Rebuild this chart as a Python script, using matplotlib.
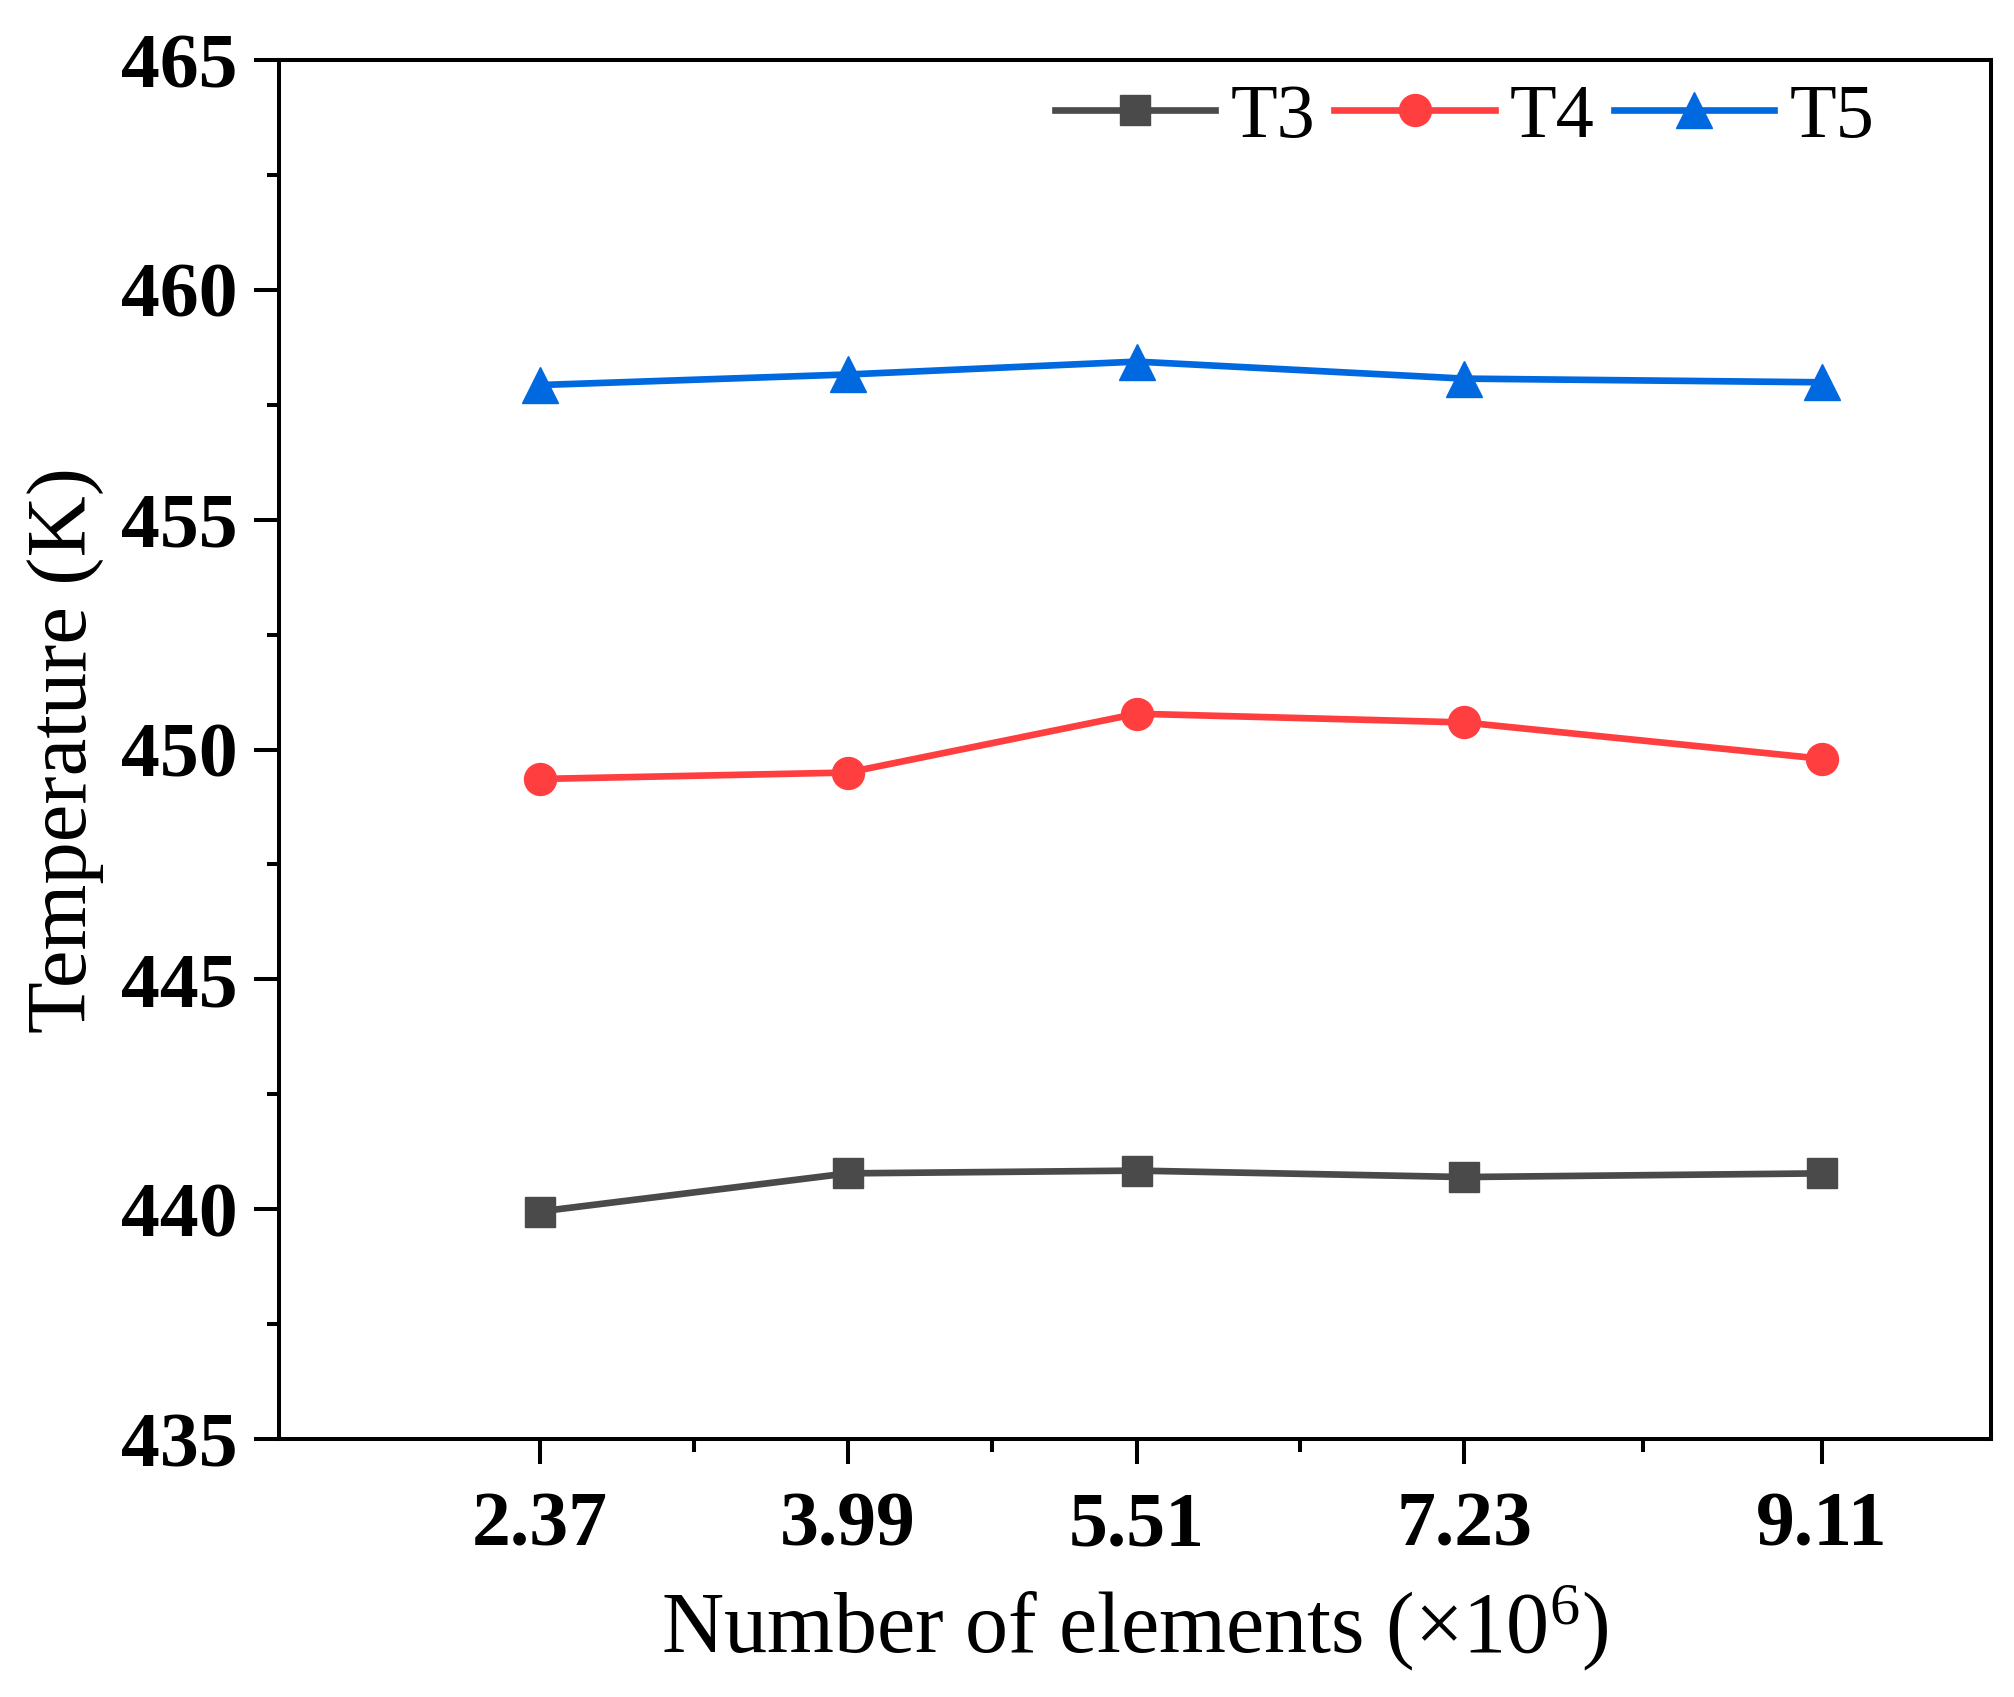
import matplotlib
matplotlib.use("Agg")
import matplotlib.pyplot as plt
import numpy as np

elements = [2.37, 3.99, 5.51, 7.23, 9.11]
tick_labels = ["2.37", "3.99", "5.51", "7.23", "9.11"]
t3 = [439.95, 440.78, 440.84, 440.70, 440.78]
t4 = [449.36, 449.50, 450.78, 450.59, 449.80]
t5 = [457.93, 458.16, 458.44, 458.07, 457.99]
series_names = ["T3", "T4", "T5"]

plt.rcParams['font.family'] = ['Liberation Serif', 'DejaVu Serif']
plt.rcParams['mathtext.fontset'] = 'custom'
plt.rcParams['mathtext.rm'] = 'Liberation Serif'
plt.rcParams['mathtext.it'] = 'Liberation Serif:italic'

fig = plt.figure(figsize=(20.14, 16.97), dpi=100)
ax = fig.add_axes([0.1385, 0.152, 0.8501, 0.8126])

ax.plot(elements, t3, color='#4a4a4a', marker='s', markersize=21, lw=4.8, label=series_names[0])
ax.plot(elements, t4, color='#ff3f3f', marker='o', markersize=23, lw=4.8, label=series_names[1])
ax.plot(elements, t5, color='#0069e0', marker='^', markersize=26, lw=4.8, label=series_names[2])

ax.set_xlim(1.0, 10.0)
ax.set_ylim(435, 465)
ax.set_xticks(elements)
ax.set_xticklabels(tick_labels)
mids = [(a + b) / 2 for a, b in zip(elements[:-1], elements[1:])]
ax.set_xticks(mids, minor=True)
ax.set_yticks(np.arange(435, 466, 5))
ax.set_yticks(np.arange(437.5, 465, 5), minor=True)

for s in ax.spines.values():
    s.set_linewidth(2.9)

ax.tick_params(axis='both', which='major', direction='out', length=18, width=2.9,
               labelsize=56)
ax.tick_params(axis='both', which='minor', direction='out', length=9, width=2.9)
ax.tick_params(axis='x', which='major', pad=20)
ax.tick_params(axis='y', which='major', pad=12)
for lab in ax.get_xticklabels() + ax.get_yticklabels():
    lab.set_fontweight('bold')

ax.set_xlabel(r'Number of elements ($\times$10$^{6}$)', fontsize=62, labelpad=14)
ax.set_ylabel('Temperature (K)', fontsize=61, labelpad=12)

ax.legend(loc='center right', ncol=3, frameon=False, fontsize=55,
          handlelength=2.1, handletextpad=0.2, columnspacing=0.25,
          borderpad=0, borderaxespad=0, bbox_to_anchor=(0.932, 0.958))

fig.savefig('out.png', dpi=100)
